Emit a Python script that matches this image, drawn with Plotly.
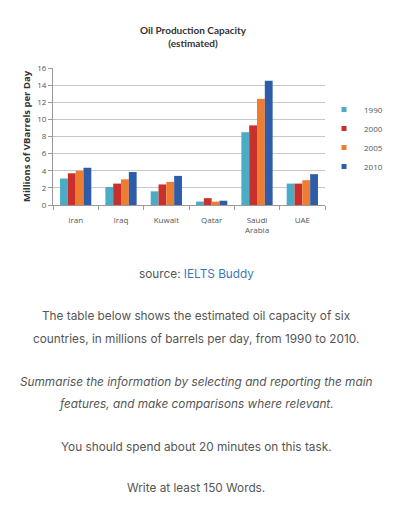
import plotly.graph_objects as go

countries = ["Iran", "Iraq", "Kuwait", "Qatar", "Saudi<br>Arabia", "UAE"]
years = ["1990", "2000", "2005", "2010"]
v1990 = [3.1, 2.1, 1.6, 0.4, 8.5, 2.5]
v2000 = [3.7, 2.5, 2.4, 0.8, 9.3, 2.5]
v2005 = [4.0, 3.0, 2.7, 0.4, 12.4, 2.9]
v2010 = [4.35, 3.85, 3.4, 0.5, 14.5, 3.6]
series = [v1990, v2000, v2005, v2010]
colors = ["#4bacc6", "#c9302c", "#ee7d31", "#2f5ca8"]

OFF = 8  # browser body margin
W, H = 400 - OFF, 512 - OFF
L, R, T, B = 53 - OFF, 332 - OFF, 68 - OFF, 205 - OFF
PW, PH = R - L, B - T

def px(x):
    return (x - OFF - L) / PW

def py(y):
    return (B - (y - OFF)) / PH

fig = go.Figure()
for i, (name, vals) in enumerate(zip(years, series)):
    fig.add_trace(go.Bar(x=countries, y=vals, name=name, marker_color=colors[i],
                         marker_line_width=0, showlegend=False))
for i, name in enumerate(years):
    fig.add_trace(go.Scatter(x=[None], y=[None], mode="markers", name=name,
                             marker=dict(symbol="square", size=5, color=colors[i]),
                             legendgroup=name, showlegend=True))

fig.update_layout(
    width=W, height=H,
    margin=dict(l=L, r=W - R, t=T, b=H - B),
    paper_bgcolor="white", plot_bgcolor="white",
    barmode="group", bargap=0.31, bargroupgap=0,
    font=dict(family="Open Sans, Lato, sans-serif", color="#555555", size=8),
    showlegend=True,
    legend=dict(x=px(331), y=py(95),
                xanchor="left", yanchor="top", font=dict(size=8, color="#555"),
                traceorder="grouped", tracegroupgap=0, itemwidth=30,
                bgcolor="rgba(0,0,0,0)"),
)
fig.update_yaxes(range=[0, 16], dtick=2, showgrid=True, gridcolor="#c8c8c8", gridwidth=1,
                 ticks="outside", ticklen=4, tickcolor="#999", showline=True,
                 linecolor="#999", zeroline=False, tickfont=dict(size=8, color="#555"),
                 title=dict(text="<b>Millions of VBarrels per Day</b>",
                            font=dict(size=9.5, color="#333"), standoff=4))
fig.update_xaxes(showline=True, linecolor="#999", ticks="outside", tickson="boundaries",
                 ticklen=4, tickcolor="#999", tickfont=dict(size=8, color="#555"),
                 tickangle=0, ticklabelstandoff=7)

fig.add_annotation(xref="paper", yref="paper", x=px(197), y=py(36.5), yanchor="middle",
                   text="<b>Oil Production Capacity<br>(estimated)</b>", showarrow=False,
                   font=dict(size=10, color="#333", family="Lato, sans-serif"))

body = dict(family="Inter, Liberation Sans, sans-serif", size=11.8, color="#555")
lines = [
    (274, "source: <span style='color:#3a78b5'>IELTS Buddy</span>"),
    (316, "The table below shows the estimated oil capacity of six"),
    (339, "countries, in millions of barrels per day, from 1990 to 2010."),
    (382, "<i>Summarise the information by selecting and reporting the main</i>"),
    (404, "<i>features, and make comparisons where relevant.</i>"),
    (447, "You should spend about 20 minutes on this task."),
    (488, "Write at least 150 Words."),
]
for y, t in lines:
    fig.add_annotation(xref="paper", yref="paper", x=px(200), y=py(y),
                       yanchor="middle", xanchor="center", text=t, showarrow=False, font=body)

fig.write_html("out.html")
